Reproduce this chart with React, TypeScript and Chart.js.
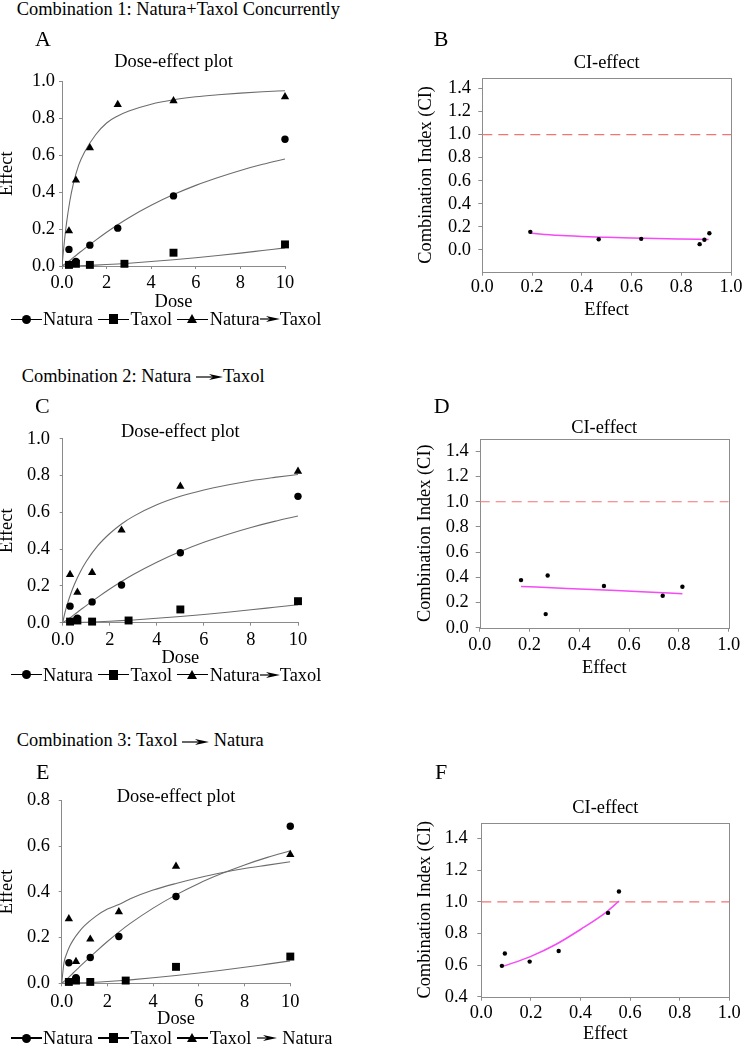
import React, { useEffect, useRef } from 'react';
import { Chart, registerables } from 'chart.js';

Chart.register(...registerables);

const SERIF = "'Liberation Serif', 'Times New Roman', Times, serif";
const FS = 18.4;

// ---------------- data ----------------
const doseNatura = [0.3125, 0.625, 1.25, 2.5, 5, 10];
const doseTaxol = [0.3125, 0.625, 1.25, 2.8, 5, 10];
const doseCombination = [0.3125, 0.625, 1.25, 2.5, 5, 10];

const effectNatura = [0.09, 0.025, 0.113, 0.205, 0.38, 0.687];
const effectTaxol = [0.006, 0.012, 0.006, 0.012, 0.072, 0.117];
const effectConcurrent = [0.19, 0.465, 0.64, 0.875, 0.895, 0.917];
const effectNaturaThenTaxol = [0.262, 0.165, 0.273, 0.503, 0.741, 0.823];
const effectTaxolThenNatura = [0.282, 0.095, 0.193, 0.313, 0.512, 0.563];

// fitted (median-effect) curves
const fitDose = [0, 0.1, 0.2, 0.35, 0.5, 0.75, 1, 1.5, 2, 2.5, 3, 4, 5, 6, 7, 8, 9, 10];
const fitNatura = [0, 0.008, 0.016, 0.03, 0.045, 0.069, 0.093, 0.139, 0.183, 0.224, 0.262, 0.329, 0.387, 0.437, 0.48, 0.518, 0.551, 0.58];
const fitTaxol = [0, 0, 0.0003, 0.0006, 0.0008, 0.0016, 0.0025, 0.0049, 0.0078, 0.0112, 0.015, 0.024, 0.034, 0.045, 0.057, 0.07, 0.084, 0.098];
const fitConcurrent = [0, 0.125, 0.23, 0.351, 0.441, 0.548, 0.615, 0.71, 0.775, 0.813, 0.84, 0.877, 0.901, 0.917, 0.928, 0.937, 0.944, 0.95];
const fitNaturaThenTaxol = [0, 0.057, 0.102, 0.16, 0.209, 0.277, 0.333, 0.42, 0.485, 0.537, 0.578, 0.641, 0.687, 0.722, 0.749, 0.772, 0.79, 0.806];
const fitTaxolThenNatura = [0, 0.09, 0.125, 0.162, 0.189, 0.224, 0.252, 0.294, 0.325, 0.345, 0.37, 0.408, 0.437, 0.462, 0.484, 0.502, 0.517, 0.532];

// CI-effect data
const ciEffect1 = [0.193, 0.468, 0.639, 0.874, 0.893, 0.913];
const ciValue1 = [0.156, 0.092, 0.095, 0.049, 0.087, 0.144];
const ciFitEffect1 = [0.19, 0.25, 0.3, 0.4, 0.5, 0.6, 0.7, 0.8, 0.91];
const ciFitValue1 = [0.145, 0.134, 0.126, 0.116, 0.109, 0.103, 0.098, 0.094, 0.09];

const ciEffect2 = [0.166, 0.273, 0.265, 0.499, 0.735, 0.814];
const ciValue2 = [0.378, 0.415, 0.108, 0.331, 0.254, 0.325];
const ciFitEffect2 = [0.166, 0.35, 0.5, 0.65, 0.814];
const ciFitValue2 = [0.328, 0.312, 0.299, 0.286, 0.27];

const ciEffect3 = [0.083, 0.095, 0.195, 0.312, 0.511, 0.555];
const ciValue3 = [0.595, 0.673, 0.622, 0.689, 0.93, 1.065];
const ciFitEffect3 = [0.083, 0.15, 0.2, 0.3, 0.4, 0.5, 0.555];
const ciFitValue3 = [0.59, 0.625, 0.655, 0.73, 0.825, 0.93, 1.005];

const refLineEffect = [0, 1];
const refLineCI = [1, 1];

// ticks
const doseTicks = [0, 2, 4, 6, 8, 10];
const effectTicksTo1 = [0, 0.2, 0.4, 0.6, 0.8, 1.0];
const effectTicksTo08 = [0, 0.2, 0.4, 0.6, 0.8];
const ciEffectTicks = [0, 0.2, 0.4, 0.6, 0.8, 1.0];
const ciTicksFrom0 = [0, 0.2, 0.4, 0.6, 0.8, 1.0, 1.2, 1.4];
const ciTicksFrom04 = [0.4, 0.6, 0.8, 1.0, 1.2, 1.4];

// legend labels
const legendNatura = 'Natura';
const legendTaxol = 'Taxol';

// ---------------- styles ----------------
const CURVE = '#6c6c6c';
const AXIS = '#8a8a8a';
const FRAME = '#8c8c8c';
const MAGENTA = '#f54af5';
const RED = '#f27474';

const framePlugin = {
  id: 'frame',
  beforeDatasetsDraw(chart: any, _args: any, opts: any) {
    if (!opts || !opts.enabled) return;
    const { left, top, right, bottom } = chart.chartArea;
    const ctx = chart.ctx;
    ctx.save();
    ctx.strokeStyle = opts.color;
    ctx.lineWidth = 1;
    const l = Math.round(left) + 0.5;
    const t = Math.round(top) + 0.5;
    const r = Math.round(right) + 0.5;
    const b = Math.round(bottom) + 0.5;
    ctx.strokeRect(l, t, r - l, b - t);
    ctx.restore();
  },
};

function font(size = FS) {
  return { family: SERIF, size, weight: 'normal', lineHeight: 1.2 };
}

function pts(xs: number[], ys: number[]) {
  return xs.map((x, i) => ({ x, y: ys[i] }));
}

function marker(xs: number[], ys: number[], style: string, r: number) {
  return {
    data: pts(xs, ys),
    pointStyle: style,
    pointRadius: r,
    pointBackgroundColor: '#000',
    pointBorderColor: '#000',
    pointBorderWidth: 0,
    showLine: false,
    clip: false,
  };
}

function curve(xs: number[], ys: number[], color: string, width: number, dash: number[] = []) {
  return {
    data: pts(xs, ys),
    showLine: true,
    borderColor: color,
    borderWidth: width,
    borderDash: dash,
    pointRadius: 0,
    cubicInterpolationMode: 'monotone',
    fill: false,
  };
}

function buildOptions(p: any) {
  return {
    responsive: false,
    animation: false,
    devicePixelRatio: 1,
    events: [],
    layout: { padding: { left: 0, top: 0, right: p.padR, bottom: 0 } },
    plugins: {
      legend: { display: false },
      tooltip: { enabled: false },
      title: {
        display: true,
        text: p.title,
        color: '#000',
        font: font(),
        fullSize: false,
        padding: { top: p.tPadTop, bottom: p.tPadBot },
      },
      frame: { enabled: p.frame, color: FRAME },
    },
    scales: {
      x: {
        type: 'linear',
        min: p.xMin,
        max: p.xMax,
        afterBuildTicks: (s: any) => {
          s.ticks = p.xTicks.map((v: number) => ({ value: v }));
        },
        afterFit: (s: any) => {
          s.height = p.xH;
        },
        ticks: {
          color: '#000',
          font: font(),
          padding: p.xTickPad,
          maxRotation: 0,
          autoSkip: false,
          callback: p.xFmt,
        },
        grid: { drawOnChartArea: false, drawTicks: true, tickLength: p.tickLen, color: p.frame ? FRAME : AXIS, lineWidth: 1 },
        border: { display: !p.frame, color: AXIS, width: 1 },
        title: { display: true, text: p.xTitle, color: '#000', font: font(), padding: { top: 0, bottom: p.xTitlePad } },
      },
      y: {
        type: 'linear',
        min: p.yMin,
        max: p.yMax,
        afterBuildTicks: (s: any) => {
          s.ticks = p.yTicks.map((v: number) => ({ value: v }));
        },
        afterFit: (s: any) => {
          s.width = p.yW;
        },
        ticks: {
          color: '#000',
          font: font(),
          padding: p.yTickPad,
          autoSkip: false,
          callback: (v: number) => Number(v).toFixed(1),
        },
        grid: { drawOnChartArea: false, drawTicks: true, tickLength: p.tickLen, color: p.frame ? FRAME : AXIS, lineWidth: 1 },
        border: { display: !p.frame, color: AXIS, width: 1 },
        title: { display: true, text: p.yTitle, color: '#000', font: font(), padding: { top: p.yTitlePad, bottom: 0 } },
      },
    },
  };
}

function doseChart(p: any) {
  return {
    type: 'scatter',
    data: {
      datasets: [
        marker(doseCombination, p.combo, 'triangle', 4.8),
        marker(doseTaxol, effectTaxol, 'rect', 5.6),
        marker(doseNatura, effectNatura, 'circle', 3.7),
        curve(fitDose, p.comboFit, CURVE, 1.1),
        curve(fitDose, fitTaxol, CURVE, 1.1),
        curve(fitDose, fitNatura, CURVE, 1.1),
      ],
    },
    options: buildOptions({
      ...p,
      title: 'Dose-effect plot',
      frame: false,
      xMin: 0,
      xMax: 10,
      xTicks: doseTicks,
      xFmt: (v: number) => (v === 0 ? '0.0' : String(v)),
      xTitle: 'Dose',
      yMin: 0,
      yTitle: 'Effect',
      tickLen: 3,
    }),
    plugins: [framePlugin],
  };
}

function ciChart(p: any) {
  return {
    type: 'scatter',
    data: {
      datasets: [
        marker(p.ciEffect, p.ci, 'circle', 2.2),
        curve(p.fitEffect, p.fitCI, MAGENTA, 1.5),
        curve(refLineEffect, refLineCI, RED, 1.2, [10, 6]),
      ],
    },
    options: buildOptions({
      ...p,
      title: 'CI-effect',
      frame: true,
      xMin: 0,
      xMax: 1,
      xTicks: ciEffectTicks,
      xFmt: (v: number) => Number(v).toFixed(1),
      xTitle: 'Effect',
      yTitle: 'Combination Index (CI)',
      tickLen: 4,
    }),
    plugins: [framePlugin],
  };
}

// ---------------- panels (layout) ----------------
const panelA = {
  kind: 'dose', left: 0, top: 45, w: 305, h: 269, padR: 20, yW: 62, xH: 48,
  tPadTop: 6.2, tPadBot: 8.2, yTitlePad: -3.8, xTitlePad: 1.2, xTickPad: 3.2, yTickPad: 4,
  yMax: 1.0, yTicks: effectTicksTo1, combo: effectConcurrent, comboFit: fitConcurrent,
};
const panelC = {
  kind: 'dose', left: 0, top: 415, w: 318, h: 255, padR: 20, yW: 62.7, xH: 47.3,
  tPadTop: 6.2, tPadBot: -4.5, yTitlePad: -3.8, xTitlePad: 0.9, xTickPad: 3.5, yTickPad: 9.7,
  yMax: 1.0, yTicks: effectTicksTo1, combo: effectNaturaThenTaxol, comboFit: fitNaturaThenTaxol,
};
const panelE = {
  kind: 'dose', left: 0, top: 780, w: 311, h: 251, padR: 20.7, yW: 61.7, xH: 47.7,
  tPadTop: 5.9, tPadBot: -7.5, yTitlePad: -4.1, xTitlePad: 1.2, xTickPad: 4.6, yTickPad: 8.7,
  yMax: 0.8, yTicks: effectTicksTo08, combo: effectTaxolThenNatura, comboFit: fitTaxolThenNatura,
};
const panelB = {
  kind: 'ci', left: 405, top: 45, w: 339, h: 277, padR: 13, yW: 77.3, xH: 50.3,
  tPadTop: 6.9, tPadBot: 4.2, yTitlePad: 10.2, xTitlePad: 1.2, xTickPad: 0.8, yTickPad: 7.3,
  yMin: -0.19, yMax: 1.49, yTicks: ciTicksFrom0,
  ciEffect: ciEffect1, ci: ciValue1, fitEffect: ciFitEffect1, fitCI: ciFitValue1,
};
const panelD = {
  kind: 'ci', left: 405, top: 411, w: 339, h: 269, padR: 15.3, yW: 74.7, xH: 52.3,
  tPadTop: 6.5, tPadBot: -0.8, yTitlePad: 9.5, xTitlePad: 1.2, xTickPad: 2.5, yTickPad: 7,
  yMin: 0, yMax: 1.5, yTicks: ciTicksFrom0,
  ciEffect: ciEffect2, ci: ciValue2, fitEffect: ciFitEffect2, fitCI: ciFitValue2,
};
const panelF = {
  kind: 'ci', left: 405, top: 791, w: 339, h: 255, padR: 14.7, yW: 76.3, xH: 49.3,
  tPadTop: 6.5, tPadBot: 3.2, yTitlePad: 9.5, xTitlePad: 1.2, xTickPad: 1.8, yTickPad: 9.6,
  yMin: 0.4, yMax: 1.5, yTicks: ciTicksFrom04,
  ciEffect: ciEffect3, ci: ciValue3, fitEffect: ciFitEffect3, fitCI: ciFitValue3,
};

function Panel({ p }: { p: any }) {
  const ref = useRef<HTMLCanvasElement>(null);
  useEffect(() => {
    const cfg = p.kind === 'dose' ? doseChart(p) : ciChart(p);
    const chart = new Chart(ref.current as HTMLCanvasElement, cfg as any);
    return () => chart.destroy();
  }, [p]);
  return (
    <canvas
      ref={ref}
      width={p.w}
      height={p.h}
      style={{ position: 'absolute', left: p.left, top: p.top, width: p.w, height: p.h, display: 'block' }}
    />
  );
}

function Arrow({ w }: { w: number }) {
  return (
    <svg width={w} height={8} viewBox={`0 0 ${w} 8`} style={{ display: 'inline-block', verticalAlign: 'middle' }}>
      <line x1={0} y1={4} x2={w - 9} y2={4} stroke="#000" strokeWidth={1.2} />
      <path d={`M${w - 14},1 L${w},4 L${w - 14},7 L${w - 10},4 Z`} fill="#000" />
    </svg>
  );
}

function Sym({ kind }: { kind: string }) {
  let m;
  if (kind === 'circle') {
    m = <span style={{ position: 'absolute', left: 11, top: 1.5, width: 9, height: 9, borderRadius: '50%', background: '#000' }} />;
  } else if (kind === 'rect') {
    m = <span style={{ position: 'absolute', left: 11, top: 1, width: 9, height: 10, background: '#000' }} />;
  } else {
    m = (
      <span
        style={{
          position: 'absolute', left: 10, top: 1, width: 0, height: 0,
          borderLeft: '5.5px solid transparent', borderRight: '5.5px solid transparent', borderBottom: '9.5px solid #000',
        }}
      />
    );
  }
  return (
    <span style={{ position: 'relative', display: 'inline-block', width: 31, height: 12, marginRight: 1.5, flex: 'none' }}>
      <span style={{ position: 'absolute', left: 0, width: 31, top: 5.25, height: 1.5, background: '#000' }} />
      {m}
    </span>
  );
}

function LegendRow({ top, first, second, spaced }: { top: number; first: string; second: string; spaced: boolean }) {
  return (
    <div
      style={{
        position: 'absolute', left: 10.5, top, height: 22, display: 'flex', alignItems: 'center',
        fontSize: FS, lineHeight: '22px', whiteSpace: 'nowrap',
      }}
    >
      <Sym kind="circle" />
      <span>{legendNatura}</span>
      <span style={{ width: 5 }} />
      <Sym kind="rect" />
      <span>{legendTaxol}</span>
      <span style={{ width: 5 }} />
      <Sym kind="triangle" />
      <span>{first}</span>
      <span style={{ width: spaced ? 6 : 0 }} />
      <Arrow w={20} />
      <span style={{ width: spaced ? 5 : 0 }} />
      <span>{second}</span>
    </div>
  );
}

const textStyle = (left: number, top: number, size: number, lh: number): React.CSSProperties => ({
  position: 'absolute', left, top, fontSize: size, lineHeight: `${lh}px`, whiteSpace: 'nowrap', color: '#000',
});

export default function App() {
  return (
    <div
      style={{
        position: 'absolute', left: 0, top: 0, width: 744, height: 1050, overflow: 'hidden',
        background: '#fff', fontFamily: SERIF, color: '#000',
      }}
    >
      <Panel p={panelA} />
      <Panel p={panelB} />
      <Panel p={panelC} />
      <Panel p={panelD} />
      <Panel p={panelE} />
      <Panel p={panelF} />

      <div style={textStyle(16.7, -1.5, FS, 20)}>Combination 1: Natura+Taxol Concurrently</div>
      <div style={textStyle(21.7, 365.5, FS, 20)}>
        Combination 2: Natura <Arrow w={27} />Taxol
      </div>
      <div style={textStyle(16.7, 729.8, FS, 20)}>
        Combination 3: Taxol <Arrow w={27} /> Natura
      </div>

      <div style={textStyle(35, 27.3, 22, 24)}>A</div>
      <div style={textStyle(433.7, 26.6, 22, 24)}>B</div>
      <div style={textStyle(35, 393.9, 22, 24)}>C</div>
      <div style={textStyle(433.7, 393.9, 22, 24)}>D</div>
      <div style={textStyle(36, 759.9, 22, 24)}>E</div>
      <div style={textStyle(435, 759.6, 22, 24)}>F</div>

      <LegendRow top={308.3} first="Natura" second="Taxol" spaced={false} />
      <LegendRow top={663.5} first="Natura" second="Taxol" spaced={false} />
      <LegendRow top={1027.1} first="Taxol" second="Natura" spaced={true} />
    </div>
  );
}
